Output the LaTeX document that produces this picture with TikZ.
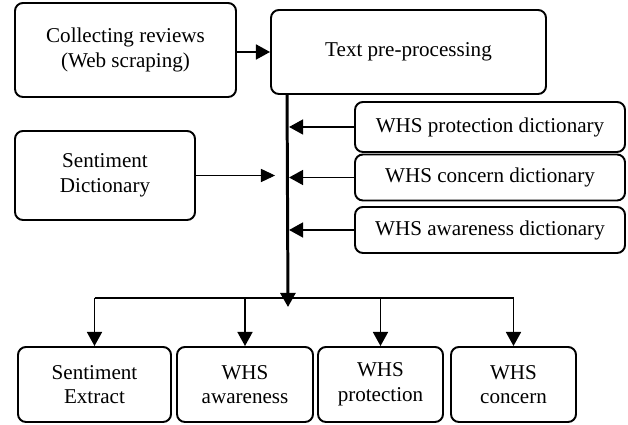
\documentclass[tikz,border=0pt]{standalone}
\usepackage{fontspec}
\setmainfont{Liberation Serif}
\usetikzlibrary{arrows.meta, positioning, calc}

\begin{document}
\begin{tikzpicture}[
    font=\fontsize{12}{14}\selectfont,
    box/.style={rectangle, draw, rounded corners=4.5pt, line width=1.1pt, align=center, inner sep=2pt},
    dict/.style={box, minimum width=5.4cm, minimum height=0.92cm},
    result/.style={box, minimum height=1.5cm},
    arrow/.style={line width=1.1pt, -{Triangle[length=8pt, width=8.5pt]}},
    thinarrow/.style={line width=0.5pt, -{Triangle[length=8pt, width=7.5pt]}}
]
\useasboundingbox (0,0) rectangle (12.56,8.5);

% Collecting and pre-processing
\node[box, minimum width=4.42cm, minimum height=1.88cm] (collect) at (2.51,7.5) {Collecting reviews\\(Web scraping)};
\node[box, minimum width=5.5cm, minimum height=1.68cm] (preproc) at (8.17,7.46) {Text pre-processing};

% Dictionaries
\node[dict, minimum height=1.0cm] (protdict) at (9.8,5.96) {WHS protection dictionary};
\node[dict] (concdict) at (9.8,4.95) {WHS concern dictionary};
\node[dict] (awaredict) at (9.8,3.9) {WHS awareness dictionary};
\node[box, minimum width=3.6cm, minimum height=1.78cm] (sentdict) at (2.1,4.99) {Sentiment\\Dictionary};

% Results
\node[result, minimum width=3.06cm] (sentext) at (1.89,0.81) {Sentiment\\Extract};
\node[result, minimum width=2.72cm] (whsaware) at (4.9,0.81) {WHS\\awareness};
\node[result, minimum width=2.5cm] (whsprot) at (7.61,0.81) {WHS\\protection};
\node[result, minimum width=2.5cm] (whsconc) at (10.27,0.81) {WHS\\concern};

% Spine and bus
\coordinate (spinetop) at ($(preproc.south west)+(0.34,0)$);
\coordinate (spineedge) at ($(spinetop)+(0.04,0)$);
\coordinate (hub) at (5.76,2.36);
\coordinate (bus) at (5.76,2.54);
\coordinate (sentin) at ($(sentdict.east -| spinetop)+(-0.24,0)$);

% Arrows
\draw[arrow] (collect.east |- preproc.west) -- (preproc.west);
\draw[arrow, line width=1.7pt] (spinetop) -- (hub);
\draw[arrow] (protdict.west) -- (protdict.west -| spineedge);
\draw[arrow] (concdict.west) -- (concdict.west -| spineedge);
\draw[arrow] (awaredict.west) -- (awaredict.west -| spineedge);
\draw[thinarrow] (sentdict.east) -- (sentin);
\draw[line width=1.1pt] (sentext.north |- bus) -- (whsconc.north |- bus);
\draw[arrow] (sentext.north |- bus) -- (sentext.north);
\draw[arrow] (whsaware.north |- bus) -- (whsaware.north);
\draw[arrow] (whsprot.north |- bus) -- (whsprot.north);
\draw[arrow] (whsconc.north |- bus) -- (whsconc.north);

\end{tikzpicture}
\end{document}
